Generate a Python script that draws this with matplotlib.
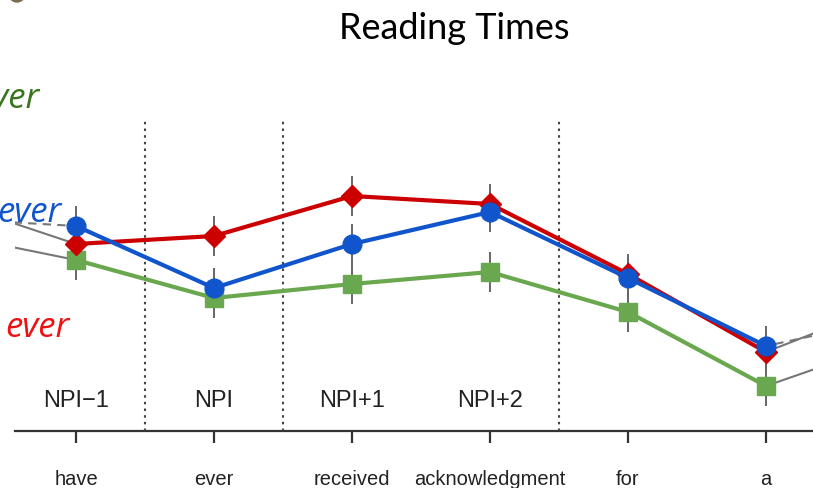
import matplotlib
matplotlib.use("Agg")
import matplotlib.pyplot as plt
from matplotlib.patches import Ellipse

# words / regions along the sentence
words = ["have", "ever", "received", "acknowledgment", "for", "a"]
regions = ["NPI\u22121", "NPI", "NPI+1", "NPI+2"]
region_pos = [0, 1, 2, 3]
dividers = [0.5, 1.5, 3.5]

# reading times (ms)
red_rt = [358, 362, 382, 378, 343, 304]
blue_rt = [367, 336, 358, 374, 341, 307]
green_rt = [350, 331, 338, 344, 324, 287]

# grey curves of the underlying plot, one word either side
grey_solid_a = [381] + red_rt + [331]
grey_dashed = [371] + blue_rt + [322]
grey_solid_b = [364] + green_rt + [311]
err = 10

W, H = 813, 488
fig = plt.figure(figsize=(W / 100, H / 100), dpi=100)
ax = fig.add_axes([15 / W, 0, 798 / W, 1])
x0 = (15 - 76) / 138
ax.set_xlim(x0, 5 + (813 - 766) / 138)
ax.set_ylim(236, 480)
ax.axis("off")

x = list(range(len(words)))
xg = [-1] + x + [len(words)]

# grey background plot
ax.plot(xg, grey_solid_a, color="#777777", lw=1.5, zorder=1)
ax.plot(xg, grey_dashed, color="#777777", lw=1.5, ls=(0, (4, 3)), zorder=1)
ax.plot(xg, grey_solid_b, color="#777777", lw=1.5, zorder=1)
for s in (red_rt, blue_rt, green_rt):
    ax.errorbar(x, s, yerr=err, fmt="none", ecolor="#666666", elinewidth=1.4,
                capsize=0, zorder=1)

# the three conditions
ax.plot(x, green_rt, color="#6aa84f", lw=3, marker="s", ms=12.5, zorder=3)
ax.plot(x, red_rt, color="#cc0000", lw=3, marker="D", ms=11.5, zorder=4)
ax.plot(x, blue_rt, color="#1155cc", lw=3, marker="o", ms=13.5, zorder=5)

# axis line, ticks, region dividers
axis_y = 264.5
ax.plot([x0, 6], [axis_y, axis_y], color="#333333", lw=1.6, clip_on=False)
ax.vlines(x, axis_y - 6, axis_y, color="#333333", lw=1.6)
ax.vlines(dividers, axis_y, 420, color="#444444", lw=1.5, ls=(0, (1.2, 2)))

for xi, w in zip(x, words):
    ax.text(xi, 237.5, w, ha="center", va="baseline", fontsize=14.5,
            family="Liberation Sans", color="#222222")
for xi, r in zip(region_pos, regions):
    ax.text(xi, 276.5, r, ha="center", va="baseline", fontsize=17,
            family="Liberation Sans", color="#222222")

# slide annotations
fig.text(454 / W, 1 - 39 / H, "Reading Times", ha="center", va="baseline",
         fontsize=26, family="Lato", color="black")
fig.text(40 / W, 1 - 108 / H, "ever", ha="right", va="baseline", fontsize=25,
         family="Open Sans", style="italic", color="#38761d")
fig.text(62 / W, 1 - 222 / H, "ever", ha="right", va="baseline", fontsize=25,
         family="Open Sans", style="italic", color="#1155cc")
fig.text(70 / W, 1 - 337 / H, "ever", ha="right", va="baseline", fontsize=25,
         family="Open Sans", style="italic", color="#ee1111")
fig.patches.append(Ellipse((17 / W, 1 + 6 / H), 16 / W, 16 / H,
                           transform=fig.transFigure, color="#7d6b52"))

fig.savefig("out.png", dpi=100)
